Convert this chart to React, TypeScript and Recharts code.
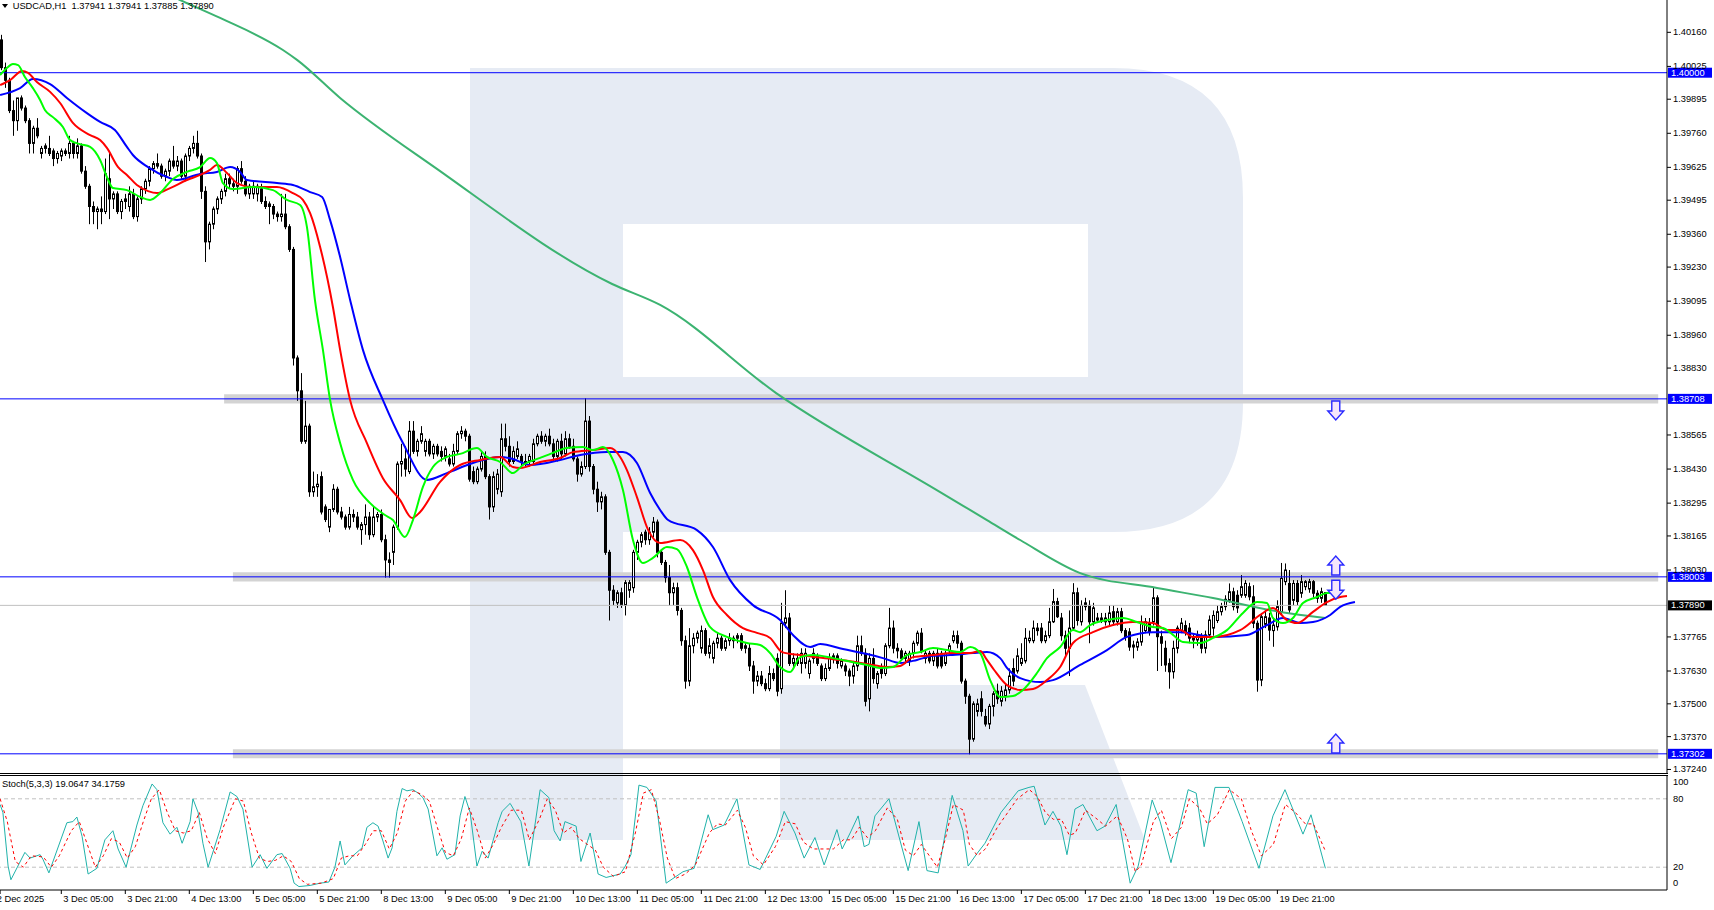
import React from "react";
import {
  ComposedChart,
  Bar,
  Line,
  XAxis,
  YAxis,
  ReferenceLine,
  ReferenceArea,
  ReferenceDot,
} from "recharts";

const FONT = '"Liberation Sans", Arial, sans-serif';
const FS = 9.3;

// prices are kept as pips above 1.3000 (1013 = 1.40130)
const pip = (p: number) => 1.3 + p / 10000;

// H1 candles [open, high, low, close], first bar is 2 Dec 14:00
const candles2to5Dec = [
  [1013, 1015, 1001, 1002], [1002, 1004, 994, 997], [997, 998, 984, 985], [985, 989, 975, 981],
  [981, 990, 977, 990], [990, 991, 985, 986], [986, 987, 980, 981], [981, 982, 968, 972],
  [972, 979, 968, 978], [978, 982, 974, 975], [968, 971, 966, 970], [970, 972, 968, 971],
  [970, 975, 967, 968], [969, 970, 963, 966], [966, 969, 964, 968], [967, 970, 965, 969],
  [969, 970, 967, 968], [968, 975, 966, 972], [972, 973, 966, 968], [968, 974, 966, 971],
  [971, 972, 960, 961], [961, 963, 954, 955], [955, 956, 940, 947], [947, 949, 940, 945],
  [945, 947, 938, 946], [946, 951, 940, 945], [945, 966, 944, 960], [958, 969, 942, 950],
  [950, 953, 946, 952], [952, 953, 944, 945], [945, 950, 942, 949], [949, 952, 946, 950],
  [947, 955, 945, 952], [952, 954, 942, 943], [943, 951, 941, 950], [950, 955, 948, 954],
  [954, 958, 952, 957], [957, 963, 955, 962], [962, 965, 960, 964], [964, 968, 962, 963],
  [963, 964, 958, 959], [959, 962, 957, 961], [961, 966, 959, 965], [965, 971, 962, 963],
  [963, 967, 961, 965], [965, 966, 958, 959], [959, 968, 957, 967], [967, 971, 965, 970],
  [970, 975, 968, 972], [972, 977, 966, 967], [967, 968, 950, 953], [953, 955, 925, 933],
  [933, 941, 930, 940], [940, 947, 938, 946], [946, 951, 944, 950], [950, 954, 948, 953],
  [953, 960, 951, 958], [958, 960, 954, 956], [956, 958, 953, 955], [955, 963, 952, 962],
  [962, 965, 956, 957], [957, 959, 951, 952], [952, 956, 950, 955], [952, 957, 950, 955],
  [952, 956, 949, 955], [954, 956, 948, 949], [949, 951, 946, 947], [948, 949, 940, 947],
  [947, 948, 942, 944], [944, 945, 941, 943], [943, 952, 941, 944], [944, 952, 938, 939],
  [939, 940, 929, 930],
];

const candles5to10Dec = [
  [930, 931, 884, 887], [887, 888, 870, 874], [874, 881, 853, 854], [854, 870, 853, 860],
  [860, 861, 832, 834], [834, 842, 832, 836], [836, 841, 832, 837], [840, 842, 825, 826],
  [828, 829, 822, 823], [820, 827, 818, 827], [827, 837, 826, 835], [835, 836, 825, 826],
  [826, 828, 823, 824], [824, 825, 819, 820], [820, 828, 819, 825], [825, 827, 822, 824],
  [824, 826, 819, 820], [819, 822, 813, 821], [821, 829, 817, 824], [824, 826, 815, 817],
  [817, 828, 816, 824], [824, 826, 822, 825], [825, 827, 814, 815], [815, 817, 800, 807],
  [807, 810, 800, 806], [810, 821, 805, 820], [820, 846, 819, 845], [845, 853, 840, 846],
  [847, 852, 840, 843], [842, 862, 841, 858], [858, 862, 849, 850], [850, 855, 848, 854],
  [854, 860, 853, 857], [850, 855, 848, 854], [854, 855, 848, 849], [849, 853, 847, 852],
  [852, 853, 848, 849], [850, 852, 846, 848], [848, 852, 846, 851], [847, 849, 844, 845],
  [845, 853, 844, 850], [850, 858, 849, 857], [857, 860, 855, 858], [858, 859, 854, 856],
  [856, 857, 838, 839], [842, 844, 837, 838], [838, 844, 837, 843], [843, 850, 842, 848],
  [848, 850, 839, 840], [840, 841, 823, 828], [828, 842, 826, 840], [835, 843, 833, 841],
  [834, 861, 832, 855], [855, 861, 850, 852], [852, 856, 844, 846], [846, 852, 845, 850],
  [848, 854, 847, 851], [848, 849, 844, 846], [846, 849, 844, 845], [846, 849, 844, 848],
  [846, 855, 845, 853], [853, 857, 852, 856], [856, 858, 853, 854], [854, 857, 852, 856],
  [856, 859, 852, 853], [853, 855, 846, 848], [848, 855, 846, 854], [854, 857, 847, 849],
  [849, 858, 848, 855], [855, 857, 851, 852], [852, 855, 846, 847], [847, 848, 838, 841],
  [841, 846, 840, 844], [844, 871, 843, 862], [862, 864, 842, 844], [844, 845, 833, 835],
  [835, 838, 826, 830], [830, 834, 827, 832], [832, 833, 809, 810], [810, 811, 783, 795],
  [795, 797, 789, 791], [790, 795, 788, 794], [794, 796, 788, 789], [789, 799, 785, 798],
  [795, 799, 792, 798], [796, 811, 794, 810], [810, 815, 807, 814], [814, 818, 812, 817],
  [818, 819, 813, 815], [815, 820, 813, 818], [818, 824, 816, 822], [822, 823, 808, 810],
];

const candles10to15Dec = [
  [810, 811, 805, 806], [806, 807, 798, 800], [800, 805, 789, 794], [794, 798, 789, 796],
  [796, 798, 785, 787], [787, 788, 773, 775], [775, 777, 756, 759], [759, 780, 757, 773],
  [773, 778, 770, 776], [776, 779, 774, 778], [772, 781, 770, 779], [779, 780, 769, 770],
  [770, 776, 768, 773], [768, 775, 766, 774], [774, 778, 772, 776], [776, 777, 771, 772],
  [772, 776, 771, 775], [775, 778, 773, 776], [775, 777, 772, 776], [776, 778, 774, 777],
  [777, 778, 771, 772], [772, 774, 770, 773], [772, 774, 763, 765], [765, 767, 754, 759],
  [759, 763, 757, 761], [761, 763, 757, 758], [758, 760, 755, 756], [756, 765, 755, 762],
  [762, 764, 759, 760], [768, 770, 753, 755], [756, 790, 754, 782], [782, 795, 780, 784],
  [784, 786, 765, 766], [766, 770, 764, 768], [768, 770, 765, 766], [766, 772, 762, 770],
  [766, 772, 764, 770], [762, 768, 760, 767], [768, 772, 766, 770], [769, 770, 765, 766],
  [765, 766, 759, 760], [760, 766, 759, 764], [764, 770, 763, 768], [768, 770, 766, 769],
  [769, 770, 764, 766], [765, 768, 764, 767], [765, 766, 761, 763], [763, 764, 757, 761],
  [761, 767, 758, 765], [765, 777, 763, 773], [773, 777, 769, 770], [770, 772, 749, 751],
  [752, 770, 747, 768], [768, 772, 758, 760], [758, 763, 756, 762], [764, 766, 760, 762],
  [762, 774, 761, 773], [773, 788, 772, 780], [780, 783, 770, 772], [772, 774, 768, 771],
  [771, 772, 767, 768], [768, 771, 766, 770], [767, 771, 765, 770], [770, 775, 768, 774],
  [774, 779, 773, 778], [778, 780, 770, 771], [768, 771, 766, 770], [770, 771, 766, 767],
  [767, 771, 765, 770], [770, 772, 764, 765], [770, 771, 764, 765], [766, 771, 765, 770],
  [771, 774, 770, 773], [775, 779, 774, 777], [777, 779, 772, 774], [774, 775, 758, 759],
  [759, 760, 750, 753], [753, 754, 730, 736], [736, 751, 735, 750], [747, 752, 745, 750],
  [752, 755, 745, 747], [745, 748, 741, 742], [742, 750, 740, 749], [749, 755, 745, 754],
  [755, 758, 750, 752],
];

const candles17to22Dec = [
  [751, 757, 749, 755], [753, 758, 751, 755.5], [755.5, 764, 754, 761], [764, 768, 757, 759],
  [763, 772, 762, 769], [766, 774, 765, 768], [767, 780, 766, 776], [775, 779, 774, 776],
  [775, 783, 774, 780], [780, 782, 777, 779], [780, 782, 774, 775], [775, 779, 774, 777],
  [777, 788, 776, 782.5], [782.5, 795.5, 782, 790.5], [790.5, 792, 784, 784.5], [784, 786, 775, 777],
  [777, 779, 769, 772], [772, 787, 761, 780], [780, 797.8, 779, 794], [794, 796, 781, 783],
  [782.5, 791, 781, 789], [790, 792, 787, 788.5], [789, 791, 774, 782.5], [782.5, 790, 781, 788],
  [784, 786, 782, 783.2], [784, 786, 782, 783], [782.5, 786, 781, 784], [782.5, 789, 781, 786],
  [786.5, 789, 781, 782.5], [782.5, 788, 781, 786.5], [786.5, 788, 778, 779], [779, 780, 775, 776.5],
  [778.5, 780, 771, 772.5], [772.5, 775, 768, 773.3], [772.5, 776, 771, 774.5], [774.5, 785, 773, 782],
  [779, 784, 778, 782.5], [782, 784, 777, 778.6], [782.5, 796, 781, 792], [792, 793, 763, 776.6],
  [776.6, 779, 765, 774], [772, 775, 762.7, 765.4], [766, 768, 756, 762.7], [762.7, 775, 760, 772],
  [772, 781, 770, 780], [779, 784, 778, 782], [781, 783, 777, 778.6], [780, 782, 774, 776],
  [776.6, 778, 772, 775.3], [775.3, 779, 773, 777.3], [776, 778, 770, 772], [772, 779, 770, 777.3],
  [777.3, 785, 776, 783.2], [780, 787, 777, 785], [783, 789, 782, 786.5], [786.5, 790, 785, 788.5],
  [788.5, 793, 787, 791.4], [791, 797.7, 790, 794.4], [794.4, 796, 787, 788.5], [793, 795, 786, 788],
  [793, 801, 792, 796.4], [793, 799, 792, 797.7], [796.4, 798, 791, 792.4], [792.4, 797, 780, 781.9],
  [781.9, 783, 754.8, 759.4], [759.4, 786, 757, 784.5], [781.5, 787, 780, 784.5], [784, 786, 775, 779.2],
  [779, 784, 772.6, 781.2], [780.5, 791, 779, 788.5], [786.5, 805.8, 785, 799.7], [798.4, 805.6, 797, 803],
  [797.7, 803, 786, 787.2], [791, 799, 789, 797.7], [797.7, 799, 789, 790.5], [793.8, 801, 792, 798.4],
  [796.4, 799, 795, 798.4], [795.5, 799.5, 794, 798.4], [798.4, 799, 792, 793.8], [793.8, 795, 790, 791.8],
  [791.8, 796, 790, 794.4], [794.1, 794.2, 788.85, 789],
];

// moving averages, [bar index, pips above 1.3000]
const slowMaPts = [
  [30, 1040], [44.7, 1028.8], [54.7, 1021.7], [70.4, 1009], [74, 1005], [84.7, 990], [108.9, 961.9],
  [152.7, 916.3], [164.7, 908], [193.7, 873.1], [234.7, 833.9], [246.4, 822.8], [254.7, 814.9],
  [269.7, 801.8], [288.9, 795.9], [302.9, 791.9], [319.7, 786.4], [331, 784],
];

const jawPts = [
  [-0.3, 991.2], [4.7, 993.9], [7.9, 997.5], [12.2, 995.5], [16.4, 990], [21.4, 984], [24.7, 980.5],
  [28.4, 977.3], [31.4, 970.6], [32.9, 967.4], [36.7, 962.6], [41.4, 958.7], [43.9, 957.5], [49.7, 959.9],
  [53.9, 960.7], [57.2, 962.6], [59.7, 960.7], [61.4, 957.5], [68.9, 956.3], [72.9, 955.5], [77.2, 952.7],
  [80.2, 950.8], [82.2, 941.6], [84.7, 927], [87.2, 910], [90.4, 890.2], [95.4, 870.3], [100.4, 853.3],
  [106.4, 838.7], [111.4, 841.4], [117.9, 845.4], [124.7, 847.8], [127.9, 847], [132.2, 844.6],
  [139.7, 846.6], [144.7, 848.6], [151.4, 849.8], [155.4, 849.8], [158.9, 845.4], [162.2, 833.5],
  [164.7, 826.8], [166.7, 822.8], [173.9, 818.8], [177.9, 812.1], [182.2, 799], [187.9, 789.1],
  [194.7, 783.2], [197.9, 777.3], [202.2, 772.5], [204.7, 773.7], [210.4, 771.7], [216.4, 769.7],
  [220.4, 768.1], [224.7, 766.2], [228.9, 767.4], [232.9, 769], [237.2, 769.3], [242.9, 770.1],
  [246.4, 770.5], [249.7, 768.1], [251.4, 764.2], [254.7, 760.2], [259.7, 758.6], [262.9, 759.4],
  [269.7, 765.4], [276.4, 771.3], [281.4, 776.5], [287.9, 778.4], [294.7, 778.4], [302.9, 776.5],
  [311.4, 777.3], [316.4, 781.2], [320.4, 784], [324.7, 782], [327.9, 782.4], [332.2, 785.2],
  [334.7, 788.4], [338.4, 790.3],
];

const teethPts = [
  [-0.3, 995.1], [2.2, 997.1], [5.2, 1000.7], [6.7, 999.9], [8.9, 996.3], [12.2, 992.4], [14.7, 988],
  [17.9, 980.1], [22.2, 975.3], [24.7, 973.3], [26.4, 970.2], [29.2, 962.6], [31.4, 959.5], [33.9, 955.5],
  [36.7, 953.1], [38.9, 952.3], [42.2, 954.3], [46.4, 957.5], [49.7, 959.5], [52.2, 961.5], [53.9, 963.4],
  [56.4, 960.3], [58.9, 956.3], [62.9, 954.7], [68.9, 954.7], [72.9, 952.3], [75.4, 949.6], [77.2, 944.4],
  [79.7, 931], [82.9, 907.2], [84.7, 890.2], [87.2, 870.3], [91.4, 853.3], [95.4, 839.4], [99.7, 830.7],
  [102.7, 823.6], [104.7, 826], [109.7, 837.9], [114.7, 844.6], [119.7, 846.6], [124.7, 847.8],
  [127.9, 843.8], [129.7, 843.4], [134.7, 845.8], [139.7, 847.4], [142.9, 849.7], [147.9, 850.5],
  [152.2, 851.3], [154.7, 847.8], [156.4, 842.6], [158.9, 831.9], [161.7, 818.9], [164.7, 813.7],
  [169.7, 814.9], [172.9, 810.9], [175.4, 803], [177.9, 792.3], [181.4, 785.2], [185.4, 780],
  [188.9, 778.1], [192.2, 776.1], [195.2, 770.5], [199.7, 769.3], [207.9, 767.7], [213.9, 766.5],
  [216.4, 765.8], [221.4, 764.6], [224.7, 765], [227.9, 768.5], [232.9, 769.3], [237.9, 770.1],
  [242.2, 770.1], [244.7, 770.9], [246.4, 767.4], [248.2, 763.4], [251.4, 757.4], [254.7, 755.5],
  [257.9, 755.9], [261.4, 759.4], [264.7, 764.6], [267.9, 774.1], [272.9, 778.4], [277.9, 781.2],
  [282.9, 782.4], [287.9, 782], [291.4, 779.2], [294.7, 779.2], [297.9, 776.5], [302.9, 776.5],
  [309.7, 779.2], [314.7, 785.2], [317.9, 788], [321.4, 783.2], [323.9, 782], [327.9, 786.4],
  [331.4, 790.3], [334.7, 792.3], [336.4, 792.7],
];

const lipsPts = [
  [-0.3, 999.1], [1.4, 1001.9], [2.9, 1003.4], [4.2, 1003], [5.9, 998.3], [7.9, 993.9], [9.7, 989.2],
  [10.9, 985.2], [12.9, 982.4], [15.4, 978.5], [17.2, 973.3], [19.7, 971.7], [22.2, 970.6], [24.7, 965.4],
  [26.4, 958.7], [27.9, 954.3], [31.4, 953.5], [34.7, 950.8], [37.2, 949.6], [39.7, 952.3], [42.9, 957.9],
  [46.4, 960.7], [49.7, 962.6], [52.2, 966.2], [53.9, 964.2], [55.4, 956.3], [57.9, 953.9], [62.9, 954.7],
  [67.9, 953.5], [71.4, 949.6], [74.7, 947.6], [76.4, 938.9], [78.4, 910], [80.4, 890.2], [82.2, 870.3],
  [84.7, 853.3], [87.9, 838.7], [92.2, 829.5], [95.9, 824.8], [97.9, 822.8], [100.9, 816.1],
  [102.9, 822.8], [105.4, 835.9], [107.9, 843.8], [111.4, 847.8], [114.7, 849], [118.9, 851.3],
  [121.4, 847.8], [124.7, 845.8], [127.9, 841.4], [130.4, 844.6], [134.7, 847.4], [137.9, 849.4],
  [141.4, 851.3], [145.4, 851.7], [147.9, 850.5], [150.4, 851.7], [152.9, 846.6], [155.4, 834.7],
  [157.9, 814.9], [160.4, 805.8], [162.9, 807.8], [166.4, 812.1], [168.9, 811.3], [171.4, 804.2],
  [173.9, 792.3], [177.2, 780.4], [181.4, 776.5], [186.4, 774.1], [189.7, 773.3], [192.2, 770.1],
  [194.7, 764.6], [197.2, 762.6], [199.7, 768.5], [202.9, 769.3], [207.9, 768.1], [212.9, 766.5],
  [216.4, 765.4], [219.7, 764.2], [222.9, 764.6], [226.4, 769.3], [229.7, 770.5], [232.9, 772.1],
  [236.4, 771.3], [239.7, 770.5], [242.2, 772.5], [244.7, 770.1], [247.2, 759.4], [249.7, 752.7],
  [252.9, 753.1], [255.4, 755.5], [258.9, 762.2], [261.4, 768.1], [264.7, 772.5], [267.9, 779.2],
  [269.7, 778.4], [272.2, 781.2], [276.4, 783.2], [280.4, 784], [283.9, 782.4], [287.9, 780.4],
  [290.4, 780], [292.9, 777.3], [295.4, 774.5], [299.7, 774.1], [302.9, 776.1], [306.4, 779.2],
  [310.4, 786], [313.9, 790.3], [316.4, 789.9], [317.9, 784], [320.4, 782], [322.9, 784], [325.4, 789.9],
  [328.9, 792.3], [331.4, 793.9], [333.9, 793.9],
];

// Stoch(5,3,3): [bar index, value]
const stochK = [
  [-0.3, 75], [0.4, 68], [1.7, 21], [2.4, 9], [5.9, 33], [7.2, 28], [9.7, 31], [10.4, 27], [11.9, 15],
  [16.4, 59], [17.9, 60], [18.9, 64], [20.2, 47], [21.7, 14], [23.9, 19], [25.9, 44], [27.9, 52],
  [29.2, 36], [31.2, 20], [33.9, 57], [35.4, 74], [37.7, 93], [38.9, 88], [40.4, 59], [42.2, 49],
  [43.9, 55], [45.2, 41], [47.2, 60], [47.9, 80], [49.2, 68], [50.4, 41], [51.7, 20], [54.7, 53],
  [57.2, 86], [58.9, 82], [60.4, 71], [62.7, 20], [64.7, 31], [66.4, 19], [68.9, 31], [70.2, 32],
  [72.2, 19], [73.2, 6], [74.4, 3], [77.2, 4], [79.7, 6], [81.9, 7], [83.4, 20], [84.7, 43], [85.9, 22],
  [87.9, 30], [90.2, 37], [91.4, 55], [92.9, 59], [94.2, 56], [95.4, 43], [96.7, 28], [97.7, 37],
  [98.9, 69], [100.2, 89], [101.4, 87], [102.9, 88], [104.2, 85], [105.4, 81], [106.7, 71], [108.9, 30],
  [110.2, 37], [111.4, 27], [113.4, 31], [114.7, 65], [115.9, 82], [117.2, 68], [118.9, 21], [120.2, 34],
  [121.7, 28], [124.2, 59], [125.2, 69], [127.2, 76], [129.9, 60], [131.9, 21], [134.7, 88], [136.9, 81],
  [138.2, 52], [139.7, 43], [140.9, 60], [143.7, 56], [144.9, 25], [147.2, 50], [149.2, 14], [151.2, 11],
  [154.7, 14], [156, 21], [157.4, 31], [159.4, 92], [161.4, 90], [163.7, 78], [166.2, 6], [170.4, 16],
  [173.2, 19], [176.7, 66], [177.9, 53], [180.7, 57], [183.9, 80], [186.9, 22], [189.7, 18], [193.7, 47],
  [195.7, 69], [198.4, 50], [200.7, 28], [203.4, 46], [205.7, 22], [208.9, 53], [210.2, 36], [212.2, 50],
  [214.2, 65], [215.7, 38], [216.9, 40], [218.4, 65], [221.9, 80], [224.7, 43], [226.7, 17], [229.4, 60],
  [231.4, 17], [234.2, 15], [237.7, 83], [240.4, 52], [241.7, 21], [243.7, 31], [245.9, 41], [249.9, 68],
  [254.2, 87], [256.9, 90], [258.2, 91], [260.9, 57], [262.9, 69], [264.9, 56], [266.4, 31], [268.4, 71],
  [270.4, 75], [273.9, 52], [275.9, 56], [278.7, 75], [282.2, 6], [284.2, 21], [287.7, 79], [289.7, 60],
  [292.4, 24], [296.7, 88], [298.7, 85], [300.7, 38], [303.4, 90], [306.9, 90], [310.2, 60], [314.4, 19],
  [317.9, 65], [320.9, 88], [325.4, 49], [327.4, 66], [331, 19.06],
];

const stochD = [
  [-0.3, 80], [1.5, 60], [3.5, 25], [5.5, 20], [7.5, 30], [10.5, 29], [12.5, 20], [14.5, 30], [17.5, 52],
  [19.5, 60], [21.5, 40], [23.5, 20], [25.5, 30], [27.5, 45], [29.5, 42], [31.5, 28], [33.5, 38],
  [35.5, 60], [37.5, 80], [39.5, 88], [41.5, 68], [43.5, 52], [45.5, 50], [47.5, 52], [49.5, 68],
  [51.5, 45], [53.5, 32], [55.5, 55], [58.5, 80], [60.5, 78], [62.5, 50], [64.5, 28], [66.5, 25],
  [68.5, 26], [70.5, 30], [72.5, 25], [74.5, 10], [76.5, 5], [80, 6], [83, 10], [85, 28], [87, 30],
  [89, 30], [91, 40], [93, 52], [95, 52], [97, 36], [99, 50], [101, 78], [103, 87], [105, 84], [107, 78],
  [109, 55], [111, 33], [113, 30], [115, 45], [117, 72], [119, 52], [121, 28], [123, 40], [125, 55],
  [127.5, 70], [130, 70], [132, 44], [134.5, 62], [136.5, 80], [138.5, 70], [140.5, 50], [142.5, 55],
  [144.5, 45], [146.5, 40], [148.5, 35], [150.5, 20], [153, 12], [156, 16], [158.5, 50], [160.5, 85],
  [162.5, 88], [164.5, 62], [166.5, 28], [168.5, 10], [171, 14], [173.5, 22], [177, 50], [179, 58],
  [181, 57], [184, 70], [186, 55], [188, 30], [190.5, 22], [193.5, 38], [196, 60], [198.5, 58],
  [200.5, 42], [203, 36], [205.5, 36], [208, 36], [210.5, 44], [212.5, 44], [214.5, 55], [216.5, 46],
  [218.5, 52], [221.5, 72], [224, 62], [226, 35], [228, 30], [230, 40], [232, 30], [234, 20], [236, 45],
  [238, 75], [240.5, 70], [242, 40], [244, 30], [246, 36], [249, 55], [254, 80], [257, 88], [259, 82],
  [261, 68], [263, 62], [265, 62], [267, 48], [268.5, 50], [271, 70], [274, 62], [276, 56], [279, 65],
  [281.5, 45], [283.5, 16], [285, 22], [288, 60], [290, 70], [292.5, 45], [295, 55], [297, 80],
  [299.5, 72], [301.5, 58], [304, 66], [307, 88], [310, 80], [312.5, 52], [315, 30], [318, 40], [321, 75],
  [323.5, 68], [326, 58], [328, 58], [331, 34.18],
];

const priceTicks = [
  1.4016, 1.40025, 1.39895, 1.3976, 1.39625, 1.39495, 1.3936, 1.3923, 1.39095, 1.3896, 1.3883,
  1.38565, 1.3843, 1.38295, 1.38165, 1.3803, 1.37765, 1.3763, 1.375, 1.3737, 1.3724,
];
const timeTickIdx = [-0.3, 15, 31, 47, 63, 79, 95, 111, 127, 143, 159, 175, 191, 207, 223, 239, 255, 271, 287, 303, 319];
const timeTickLabels = [
  "2 Dec 2025", "3 Dec 05:00", "3 Dec 21:00", "4 Dec 13:00", "5 Dec 05:00", "5 Dec 21:00",
  "8 Dec 13:00", "9 Dec 05:00", "9 Dec 21:00", "10 Dec 13:00", "11 Dec 05:00", "11 Dec 21:00",
  "12 Dec 13:00", "15 Dec 05:00", "15 Dec 21:00", "16 Dec 13:00", "17 Dec 05:00", "17 Dec 21:00",
  "18 Dec 13:00", "19 Dec 05:00", "19 Dec 21:00",
];

const levels = [1.4, 1.38708, 1.38003, 1.37302];
const lastPrice = 1.3789;

const X_DOMAIN: [number, number] = [-0.325, 416.4];
const Y_DOMAIN: [number, number] = [1.37226, 1.40288];

const candleData = [...candles2to5Dec, ...candles5to10Dec, ...candles10to15Dec, ...candles17to22Dec].map(
  ([o, h, l, c], i) => ({ i, o: pip(o), h: pip(h), l: pip(l), c: pip(c) })
);
const toPts = (arr: number[][]) => arr.map(([i, p]) => ({ i, v: pip(p) }));
const toStoch = (arr: number[][]) => arr.map(([i, v]) => ({ i, v }));

function Candle(props: any) {
  const { x, y, width, height, payload } = props;
  if (x == null || y == null) return null;
  const { o, h, l, c } = payload;
  const ppu = h > l ? height / (h - l) : 0;
  const cx = Math.round(x + width / 2) + 0.5;
  const top = y + (h - Math.max(o, c)) * ppu;
  const bot = y + (h - Math.min(o, c)) * ppu;
  const up = c >= o;
  return (
    <g>
      <line x1={cx} x2={cx} y1={y} y2={y + height} stroke="#000" strokeWidth={1} />
      {up ? (
        <rect x={cx - 1} y={top} width={2} height={Math.max(bot - top, 1)} fill="#fff" stroke="#000" strokeWidth={1} />
      ) : (
        <rect x={cx - 1.5} y={top - 0.5} width={3} height={Math.max(bot - top + 1, 1)} fill="#000" />
      )}
    </g>
  );
}

function PriceTick(props: any) {
  const { x, y, payload } = props;
  return (
    <text x={x} y={y} dominantBaseline="central" textAnchor="start" fontSize={FS} fontFamily={FONT} fill="#000">
      {Number(payload.value).toFixed(5)}
    </text>
  );
}

function StochTick(props: any) {
  const { x, y, payload } = props;
  const yy = Math.min(Math.max(y, 6), 107);
  return (
    <text x={x - 2} y={yy} dominantBaseline="central" textAnchor="start" fontSize={FS} fontFamily={FONT} fill="#000">
      {payload.value}
    </text>
  );
}

function TimeTick(props: any) {
  const { x, y, payload } = props;
  const k = timeTickIdx.indexOf(payload.value);
  if (k < 0) return null;
  return (
    <text x={k === 0 ? x - 3.4 : x + 2} y={y + 3} dominantBaseline="central" textAnchor="start" fontSize={FS} fontFamily={FONT} fill="#000">
      {timeTickLabels[k]}
    </text>
  );
}

const priceBox = (text: string, bg: string) => (props: any) => {
  const vb = props.viewBox || {};
  const x = (vb.x || 0) + (vb.width || 0) + 1;
  const y = vb.y || 0;
  return (
    <g>
      <rect x={x} y={y - 5} width={44} height={10} fill={bg} />
      <text x={x + 3} y={y} dominantBaseline="central" fontSize={FS} fontFamily={FONT} fill="#fff">
        {text}
      </text>
    </g>
  );
};

function Arrow(props: any) {
  const { cx, cy, up } = props;
  if (cx == null) return null;
  const s = up ? -1 : 1;
  const pts = [
    [-4, -10], [4, -10], [4, 0], [8, 0], [0, 9], [-8, 0], [-4, 0],
  ]
    .map(([dx, dy]) => `${cx + dx},${cy + s * dy}`)
    .join(" ");
  return <polygon points={pts} fill="#f5e6fb" stroke="#2a2aff" strokeWidth={1.4} />;
}

function Watermark() {
  return (
    <svg width={1714} height={910} style={{ position: "absolute", left: 0, top: 0 }}>
      <path
        d="M470,68 H1113 Q1243,68 1243,198 V402 Q1243,532 1113,532 H623 V840 H470 Z M623,224 H1088 V377 H623 Z"
        fill="#e6ebf4"
        fillRule="evenodd"
      />
      <polygon points="780,685 1085,685 1145,840 780,840" fill="#e6ebf4" />
    </svg>
  );
}

export default function App() {
  return (
    <div style={{ position: "absolute", left: 0, top: 0, width: 1714, height: 910, background: "#fff", overflow: "hidden" }}>
      <Watermark />
      <div style={{ position: "absolute", left: 0, top: 0 }}>
        <ComposedChart width={1714} height={773} data={candleData} margin={{ top: 0, right: 0, bottom: 0, left: 0 }}>
          <XAxis dataKey="i" type="number" domain={X_DOMAIN} allowDataOverflow hide />
          <YAxis
            orientation="right"
            domain={Y_DOMAIN}
            allowDataOverflow
            width={47}
            ticks={priceTicks}
            interval={0}
            tick={PriceTick}
            tickSize={4}
            tickLine={{ stroke: "#000" }}
            axisLine={{ stroke: "#000" }}
          />
          <ReferenceArea x1={55.7} x2={414.2} y1={pip(869)} y2={pip(872.6)} fill="#d3d3d3" fillOpacity={1} stroke="none" />
          <ReferenceArea x1={57.9} x2={414.2} y1={pip(798.5)} y2={pip(802.1)} fill="#d3d3d3" fillOpacity={1} stroke="none" />
          <ReferenceArea x1={57.9} x2={414.2} y1={pip(728.4)} y2={pip(732)} fill="#d3d3d3" fillOpacity={1} stroke="none" />
          <Bar dataKey={(d: any) => [d.l, d.h]} shape={Candle} barSize={3} isAnimationActive={false} />
          <ReferenceLine y={lastPrice} stroke="#c0c0c0" strokeWidth={1} label={priceBox("1.37890", "#000")} />
          {levels.map((lv) => (
            <ReferenceLine key={lv} y={lv} stroke="#0000ff" strokeWidth={1} label={priceBox(lv.toFixed(5), "#0000ff")} />
          ))}
          <Line data={toPts(slowMaPts)} dataKey="v" type="monotone" stroke="#3cb371" strokeWidth={2} dot={false} isAnimationActive={false} />
          <Line data={toPts(jawPts)} dataKey="v" type="monotone" stroke="#0000ff" strokeWidth={2} dot={false} isAnimationActive={false} />
          <Line data={toPts(teethPts)} dataKey="v" type="monotone" stroke="#ff0000" strokeWidth={2} dot={false} isAnimationActive={false} />
          <Line data={toPts(lipsPts)} dataKey="v" type="monotone" stroke="#00ff00" strokeWidth={2} dot={false} isAnimationActive={false} />
          <ReferenceDot x={333.6} y={pip(866)} r={0} shape={(p: any) => <Arrow {...p} up={false} />} />
          <ReferenceDot x={333.6} y={pip(805)} r={0} shape={(p: any) => <Arrow {...p} up={true} />} />
          <ReferenceDot x={333.6} y={pip(795)} r={0} shape={(p: any) => <Arrow {...p} up={false} />} />
          <ReferenceDot x={333.6} y={pip(734.5)} r={0} shape={(p: any) => <Arrow {...p} up={true} />} />
        </ComposedChart>
      </div>
      <div style={{ position: "absolute", left: 0, top: 773, width: 1668, height: 1, background: "#000" }} />
      <div style={{ position: "absolute", left: 0, top: 775, width: 1668, height: 1, background: "#000" }} />
      <div style={{ position: "absolute", left: 0, top: 776 }}>
        <ComposedChart width={1714} height={134} margin={{ top: 0, right: 0, bottom: 0, left: 0 }}>
          <XAxis
            dataKey="i"
            type="number"
            domain={X_DOMAIN}
            allowDataOverflow
            ticks={timeTickIdx}
            interval={0}
            tick={TimeTick}
            tickSize={4}
            height={20}
            tickLine={{ stroke: "#000" }}
            axisLine={{ stroke: "#000" }}
          />
          <YAxis
            orientation="right"
            domain={[0, 100]}
            allowDataOverflow
            width={47}
            ticks={[0, 20, 80, 100]}
            interval={0}
            tick={StochTick}
            tickLine={false}
            axisLine={{ stroke: "#000" }}
          />
          <ReferenceLine y={80} stroke="#c0c0c0" strokeDasharray="4 3" />
          <ReferenceLine y={20} stroke="#c0c0c0" strokeDasharray="4 3" />
          <Line data={toStoch(stochK)} dataKey="v" type="linear" stroke="#20b2aa" strokeWidth={1} dot={false} isAnimationActive={false} />
          <Line data={toStoch(stochD)} dataKey="v" type="linear" stroke="#ff0000" strokeWidth={1} strokeDasharray="3 3" dot={false} isAnimationActive={false} />
        </ComposedChart>
      </div>
      <svg width={10} height={12} style={{ position: "absolute", left: 0, top: 0 }}>
        <polygon points="2,4 8,4 5,8" fill="#000" />
      </svg>
      <div style={{ position: "absolute", left: 12.7, top: 0, fontFamily: FONT, fontSize: FS, lineHeight: "12px", whiteSpace: "pre", color: "#000" }}>
        {"USDCAD,H1  1.37941 1.37941 1.37885 1.37890"}
      </div>
      <div style={{ position: "absolute", left: 2, top: 778, fontFamily: FONT, fontSize: FS, lineHeight: "12px", whiteSpace: "pre", color: "#000" }}>
        {"Stoch(5,3,3) 19.0647 34.1759"}
      </div>
    </div>
  );
}
